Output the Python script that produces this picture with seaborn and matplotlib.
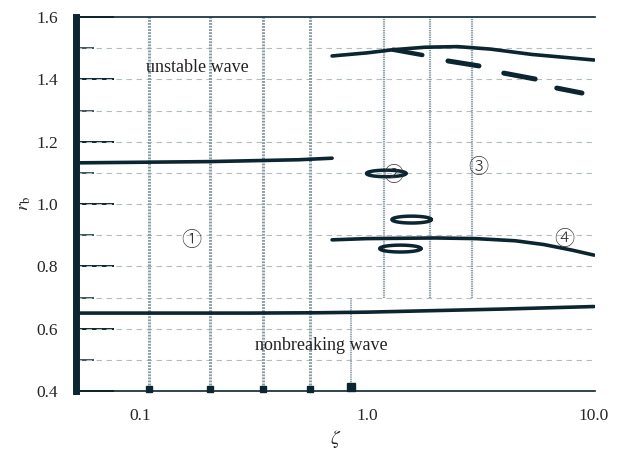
import numpy as np
import pandas as pd
import matplotlib
matplotlib.use("Agg")
import matplotlib.pyplot as plt
from matplotlib.ticker import FixedLocator, NullLocator
import seaborn as sns

sns.set_style("white")
plt.rcParams['font.family'] = ['Liberation Serif', 'Noto Sans CJK JP', 'DejaVu Sans']
plt.rcParams['mathtext.fontset'] = 'stix'

ink = '#0b2630'
grid_col = '#8c9ca5'

# boundary curves (zeta, r_b)
low_x = [0.052, 0.3, 0.6, 1.0, 2.0, 4.0, 10.0]
low_y = [0.650, 0.650, 0.651, 0.653, 0.658, 0.663, 0.671]

mid_x = [0.052, 0.2, 0.5, 0.70]
mid_y = [1.132, 1.136, 1.142, 1.147]

top_x = [0.7, 1.0, 1.3, 1.8, 2.5, 3.5, 5.3, 10.0]
top_y = [1.475, 1.485, 1.495, 1.503, 1.505, 1.497, 1.480, 1.462]

tail_x = [1.3, 1.75]
tail_y = [1.495, 1.478]

dash_x = [[2.27, 3.11], [4.0, 5.5], [6.85, 8.85]]
dash_y = [[1.459, 1.443], [1.420, 1.401], [1.372, 1.356]]

c4_x = [0.7, 1.0, 2.0, 3.0, 4.5, 6.0, 8.0, 10.0]
c4_y = [0.885, 0.889, 0.891, 0.889, 0.882, 0.870, 0.852, 0.836]

# closed loops: centre zeta, centre r_b, half-width (decades), half-height
loop_zeta = [1.213, 1.57, 1.40]
loop_rb = [1.098, 0.950, 0.857]
loop_hw = [0.087, 0.087, 0.091]
loop_hh = [0.0105, 0.0110, 0.0110]

# vertical reference lines
full_v = [0.109, 0.203, 0.348, 0.558]
short_v = 0.849
upper_v = [1.18, 1.89, 2.9]

fig = plt.figure(figsize=(6.18, 4.5), dpi=100)
ax = fig.add_axes([76 / 618, 1 - 391 / 450, 519 / 618, 374 / 450])
ax.set_xscale('log')
ax.set_xlim(0.052, 10.1)
ax.set_ylim(0.4, 1.6)

# dashed horizontal grid
for yv in np.arange(0.5, 1.55, 0.1):
    ax.axhline(yv, color='#b3bcc0', lw=0.8, ls=(0, (5, 4)), zorder=1)

dot = (0, (0.6, 0.4))
for xv in full_v:
    ax.plot([xv, xv], [0.4, 1.6], color=grid_col, lw=2.2, ls=dot, zorder=2)
ax.plot([short_v, short_v], [0.4, 0.70], color=grid_col, lw=1.3, ls=dot, zorder=2)
for xv in upper_v:
    ax.plot([xv, xv], [0.70, 1.6], color=grid_col, lw=1.6, ls=dot, zorder=2)

ax.plot(full_v, [0.408] * len(full_v), ls='none', marker='s', ms=4.5,
        color=ink, zorder=4, clip_on=False)
ax.plot([short_v], [0.413], ls='none', marker='s', ms=6, color=ink,
        zorder=4, clip_on=False)

lw = 2.6
sns.lineplot(x=low_x, y=low_y, ax=ax, color=ink, lw=lw, zorder=3)
sns.lineplot(x=mid_x, y=mid_y, ax=ax, color=ink, lw=lw, zorder=3)
sns.lineplot(x=top_x, y=top_y, ax=ax, color=ink, lw=lw, zorder=3)
sns.lineplot(x=tail_x, y=tail_y, ax=ax, color=ink, lw=lw + 0.6, zorder=3)
for dx, dy in zip(dash_x, dash_y):
    sns.lineplot(x=dx, y=dy, ax=ax, color=ink, lw=lw + 1, zorder=3)
sns.lineplot(x=c4_x, y=c4_y, ax=ax, color=ink, lw=lw, zorder=3)

t = np.linspace(0, 2 * np.pi, 120)
for zc, rc, hw, hh in zip(loop_zeta, loop_rb, loop_hw, loop_hh):
    lx = 10 ** (np.log10(zc) + hw * np.cos(t))
    ly = rc + hh * np.sin(t)
    loop = pd.DataFrame({'x': lx, 'y': ly})
    sns.lineplot(data=loop, x='x', y='y', ax=ax, sort=False, estimator=None,
                 color=ink, lw=2.5, zorder=3)

txt = dict(fontsize=13, color='#222222')
ax.text(0.106, 1.437, 'unstable wave', ha='left', va='center', **txt)
ax.text(0.321, 0.547, 'nonbreaking wave', ha='left', va='center', **txt)
circ = dict(fontsize=14.5, color='#333333', ha='center', va='center',
            family=['Noto Sans CJK JP'], fontweight='light')
ax.text(0.168, 0.884, '\u2460', **circ)
ax.text(1.30, 1.092, '\u2461', **circ)
ax.text(3.1, 1.116, '\u2462', **circ)
ax.text(7.4, 0.886, '\u2463', **circ)

# spines
for s in ['top', 'bottom']:
    ax.spines[s].set_color(ink)
    ax.spines[s].set_linewidth(1.2)
ax.spines['right'].set_visible(False)
ax.spines['left'].set_color(ink)
ax.spines['left'].set_linewidth(5)
ax.spines['left'].set_zorder(5)

ax.yaxis.set_major_locator(FixedLocator([0.4, 0.6, 0.8, 1.0, 1.2, 1.4, 1.6]))
ax.yaxis.set_minor_locator(FixedLocator([0.5, 0.7, 0.9, 1.1, 1.3, 1.5]))
ax.set_yticklabels(['0.4', '0.6', '0.8', '1.0', '1.2', '1.4', '1.6'])
ax.tick_params(axis='y', which='major', direction='in', length=27, width=1.4,
               color=ink, pad=13, labelsize=12.5, left=True)
ax.tick_params(axis='y', which='minor', direction='in', length=13, width=1.1,
               color=ink, left=True)

ax.xaxis.set_major_locator(FixedLocator([0.1, 1.0, 10.0]))
ax.xaxis.set_minor_locator(NullLocator())
ax.set_xticklabels(['0.1', '1.0', '10.0'])
ax.tick_params(axis='x', which='major', length=0, pad=12, labelsize=12.5)

ax.set_xlabel(r'$\zeta$', fontsize=14, labelpad=3)
ax.set_ylabel(r'$r_\mathrm{b}$', fontsize=13, labelpad=2)

fig.savefig('out.png', dpi=100)
